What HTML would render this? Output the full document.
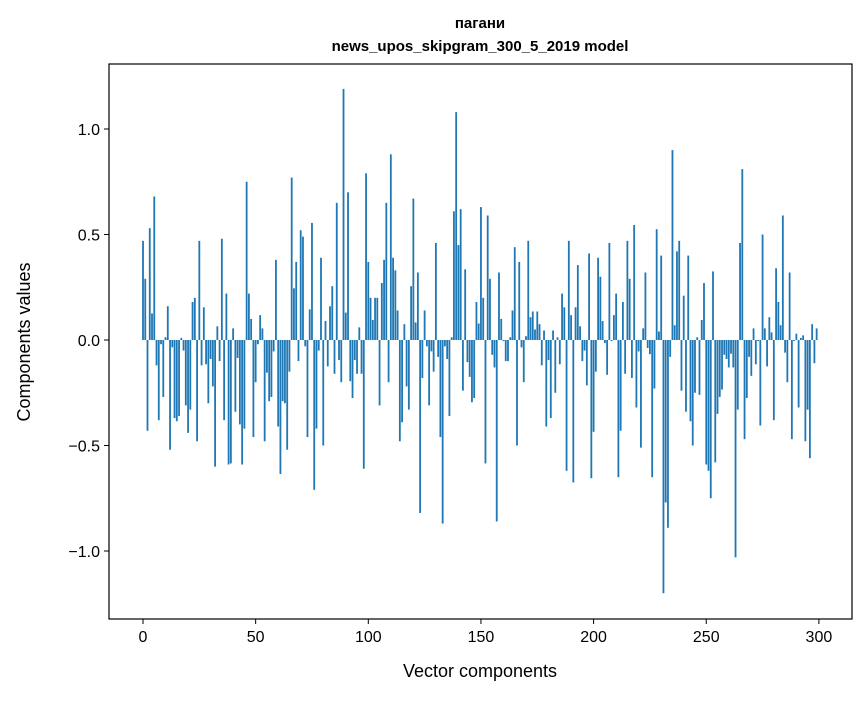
<!DOCTYPE html>
<html><head><meta charset="utf-8"><style>
body{margin:0;background:#fff;font-family:"Liberation Sans","DejaVu Sans",sans-serif;}
svg text{font-family:"Liberation Sans","DejaVu Sans",sans-serif;}
</style></head><body>
<svg id="chart" width="867" height="696" xmlns="http://www.w3.org/2000/svg">
<rect width="867" height="696" fill="#fff"/>
<text x="480" y="28" text-anchor="middle" font-size="15" font-weight="bold">пагани</text>
<text x="480" y="51" text-anchor="middle" font-size="15" font-weight="bold">news_upos_skipgram_300_5_2019 model</text>
<g id="bars"></g>
<g id="axes"></g>
<text x="480" y="677" text-anchor="middle" font-size="18">Vector components</text>
<text transform="translate(30,342) rotate(-90)" text-anchor="middle" font-size="18">Components values</text>
</svg>
<script>
const values = [
0.47,0.29,-0.43,0.53,0.126,0.68,-0.12,-0.38,-0.02,-0.27,
0.013,0.16,-0.52,-0.035,-0.37,-0.385,-0.36,0.01,-0.05,-0.31,
-0.44,-0.33,0.18,0.2,-0.48,0.47,-0.12,0.155,-0.115,-0.3,
-0.09,-0.22,-0.6,0.065,-0.1,0.48,-0.38,0.22,-0.59,-0.585,
0.055,-0.34,-0.085,-0.40,-0.59,-0.42,0.75,0.22,0.1,-0.46,
-0.2,-0.02,0.118,0.055,-0.48,-0.155,-0.29,-0.27,-0.054,0.38,
-0.41,-0.635,-0.29,-0.30,-0.52,-0.15,0.77,0.245,0.37,-0.1,
0.52,0.49,-0.03,-0.46,0.145,0.555,-0.71,-0.42,-0.05,0.39,
-0.5,0.09,-0.125,0.16,0.255,-0.16,0.65,-0.095,-0.2,1.19,
0.13,0.70,-0.195,-0.275,-0.095,-0.16,0.06,-0.16,-0.61,0.79,
0.37,0.2,0.095,0.2,0.2,-0.31,0.27,0.38,0.65,-0.2,
0.88,0.39,0.33,0.14,-0.48,-0.39,0.075,-0.22,-0.33,0.255,
0.67,0.083,0.32,-0.82,-0.18,0.14,-0.03,-0.31,-0.054,-0.15,
0.46,-0.08,-0.46,-0.87,-0.03,-0.09,-0.36,0.013,0.61,1.08,
0.45,0.62,-0.24,0.335,-0.105,-0.175,-0.295,-0.275,0.18,0.078,
0.63,0.2,-0.585,0.59,0.29,-0.07,-0.13,-0.86,0.32,0.1,
-0.005,-0.1,-0.1,0.013,0.14,0.44,-0.5,0.37,-0.035,-0.2,
0.018,0.47,0.108,0.135,0.05,0.135,0.075,-0.12,0.045,-0.41,
-0.095,-0.37,0.045,-0.25,0.013,-0.115,0.22,0.155,-0.62,0.47,
0.118,-0.675,0.155,0.355,0.065,-0.1,-0.05,-0.215,0.41,-0.655,
-0.435,-0.15,0.39,0.30,0.09,-0.015,-0.165,0.46,-0.005,0.118,
0.22,-0.65,-0.43,0.18,-0.16,0.47,0.29,-0.18,0.545,-0.32,
-0.054,-0.51,0.055,0.32,-0.038,-0.067,-0.65,-0.23,0.525,0.04,
0.40,-1.2,-0.77,-0.89,-0.08,0.9,0.07,0.42,0.47,-0.24,
0.21,-0.34,0.40,-0.385,-0.5,-0.25,0.013,-0.26,0.095,0.27,
-0.59,-0.62,-0.75,0.325,-0.58,-0.35,-0.27,-0.235,-0.07,-0.09,
-0.13,-0.065,-0.13,-1.03,-0.33,0.46,0.81,-0.47,-0.275,-0.08,
-0.17,0.055,-0.115,-0.005,-0.405,0.50,0.055,-0.125,0.108,0.036,
-0.38,0.34,0.18,0.07,0.59,-0.06,-0.2,0.32,-0.47,-0.005,
0.03,-0.32,0.01,0.022,-0.48,-0.33,-0.56,0.075,-0.11,0.055
];
const xTicks = [0,50,100,150,200,250,300];
const yTicks = [-1.0,-0.5,0.0,0.5,1.0];
const yTickLabels = ["\u22121.0","\u22120.5","0.0","0.5","1.0"];

const L=109,R=852,T=64,B=619;
const x0px=143, xScale=2.253;
const y0px=340, yScale=211;
function xs(v){return x0px+v*xScale;}
function ys(v){return y0px-v*yScale;}
const NS="http://www.w3.org/2000/svg";
const bars=document.getElementById('bars');
const bw=0.8*xScale;
values.forEach((v,i)=>{
  const r=document.createElementNS(NS,'rect');
  const yA=ys(Math.max(v,0)), yB=ys(Math.min(v,0));
  r.setAttribute('x',xs(i)-bw/2);
  r.setAttribute('y',yA);
  r.setAttribute('width',bw);
  r.setAttribute('height',Math.max(yB-yA,0.3));
  r.setAttribute('fill','#1f77b4');
  
  
  bars.appendChild(r);
});
const axes=document.getElementById('axes');
const frame=document.createElementNS(NS,'rect');
frame.setAttribute('x',L);frame.setAttribute('y',T);
frame.setAttribute('width',R-L);frame.setAttribute('height',B-T);
frame.setAttribute('fill','none');frame.setAttribute('stroke','#000');frame.setAttribute('stroke-width','1.2');


axes.appendChild(frame);
xTicks.forEach(t=>{
  const l=document.createElementNS(NS,'line');
  l.setAttribute('x1',xs(t));l.setAttribute('x2',xs(t));
  l.setAttribute('y1',B);l.setAttribute('y2',B+5);l.setAttribute('stroke','#000');
  
  
  axes.appendChild(l);
  const tx=document.createElementNS(NS,'text');
  tx.setAttribute('x',xs(t));tx.setAttribute('y',B+23);
  tx.setAttribute('text-anchor','middle');tx.setAttribute('font-size','16');
  tx.textContent=t;
  
  
  axes.appendChild(tx);
});
yTicks.forEach((t,k)=>{
  const l=document.createElementNS(NS,'line');
  l.setAttribute('x1',L-5);l.setAttribute('x2',L);
  l.setAttribute('y1',ys(t));l.setAttribute('y2',ys(t));l.setAttribute('stroke','#000');
  
  
  axes.appendChild(l);
  const tx=document.createElementNS(NS,'text');
  tx.setAttribute('x',L-9);tx.setAttribute('y',ys(t)+6);
  tx.setAttribute('text-anchor','end');tx.setAttribute('font-size','16');
  tx.textContent=yTickLabels[k];
  
  
  axes.appendChild(tx);
});
</script>
</body></html>
